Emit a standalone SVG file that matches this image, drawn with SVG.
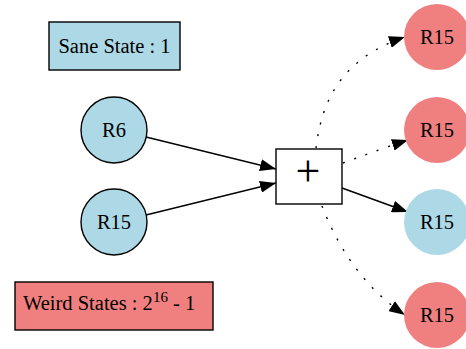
<svg xmlns="http://www.w3.org/2000/svg" width="466" height="349" viewBox="0 0 466 349">
  <defs>
    <marker id="arrow" markerUnits="userSpaceOnUse" markerWidth="16" markerHeight="12" refX="16" refY="6" orient="auto">
      <path d="M0,0 L16,6 L0,12 Z" fill="#000" stroke="none"/>
    </marker>
    <style>
      text { font-family: "Liberation Serif", "Times New Roman", serif; font-size: 20.5px; fill: #000; }
      .lbl { text-anchor: middle; }
      .sane { fill: #add8e6; stroke: #000; stroke-width: 1.4; }
      .weird { fill: #f08080; stroke: #000; stroke-width: 1.4; }
      .redfill { fill: #f08080; stroke: none; }
      .bluefill { fill: #add8e6; stroke: none; }
      .op { fill: #fff; stroke: #000; stroke-width: 1.4; }
      .edge { fill: none; stroke: #000; stroke-width: 1.4; marker-end: url(#arrow); }
      .dot { stroke-dasharray: 2 10; }
    </style>
  </defs>

  <rect width="466" height="349" fill="#fff"/>

  <!-- legend -->
  <g id="legend-sane">
    <rect class="sane" x="49" y="22" width="131" height="48"/>
    <text class="lbl" x="114.5" y="52.5">Sane State : 1</text>
  </g>
  <g id="legend-weird">
    <rect class="weird" x="15" y="282" width="198" height="48"/>
    <text x="23" y="310">Weird States : 2<tspan style="font-size:15px" dy="-8">16</tspan><tspan dy="8"> - 1</tspan></text>
  </g>

  <!-- connectors -->
  <g id="edges">
    <path class="edge" d="M146,137 L276,169"/>
    <path class="edge" d="M146,215 L276,183"/>
    <path class="edge dot" d="M316,148 C321,108 336,60 405,37"/>
    <path class="edge dot" d="M343,163 C360,157 380,149 408,140"/>
    <path class="edge" d="M342,188 L408,212"/>
    <path class="edge dot" d="M322,206 C336,242 360,285 405,315"/>
  </g>

  <!-- inputs -->
  <g id="in-r6">
    <circle class="sane" cx="114" cy="130" r="33"/>
    <text class="lbl" x="114" y="137">R6</text>
  </g>
  <g id="in-r15">
    <circle class="sane" cx="114" cy="222" r="33"/>
    <text class="lbl" x="114" y="229">R15</text>
  </g>

  <!-- operator -->
  <g id="op-add">
    <rect class="op" x="276" y="149" width="66" height="55"/>
    <text class="lbl" x="308" y="186" style="font-size:44px">+</text>
  </g>

  <!-- outputs -->
  <g id="out-1">
    <circle class="redfill" cx="437" cy="37" r="33"/>
    <text class="lbl" x="437" y="43.5">R15</text>
  </g>
  <g id="out-2">
    <circle class="redfill" cx="437" cy="130" r="33"/>
    <text class="lbl" x="437" y="137">R15</text>
  </g>
  <g id="out-3">
    <circle class="bluefill" cx="437" cy="222" r="33"/>
    <text class="lbl" x="437" y="229">R15</text>
  </g>
  <g id="out-4">
    <circle class="redfill" cx="437" cy="315" r="33"/>
    <text class="lbl" x="437" y="322">R15</text>
  </g>
</svg>
